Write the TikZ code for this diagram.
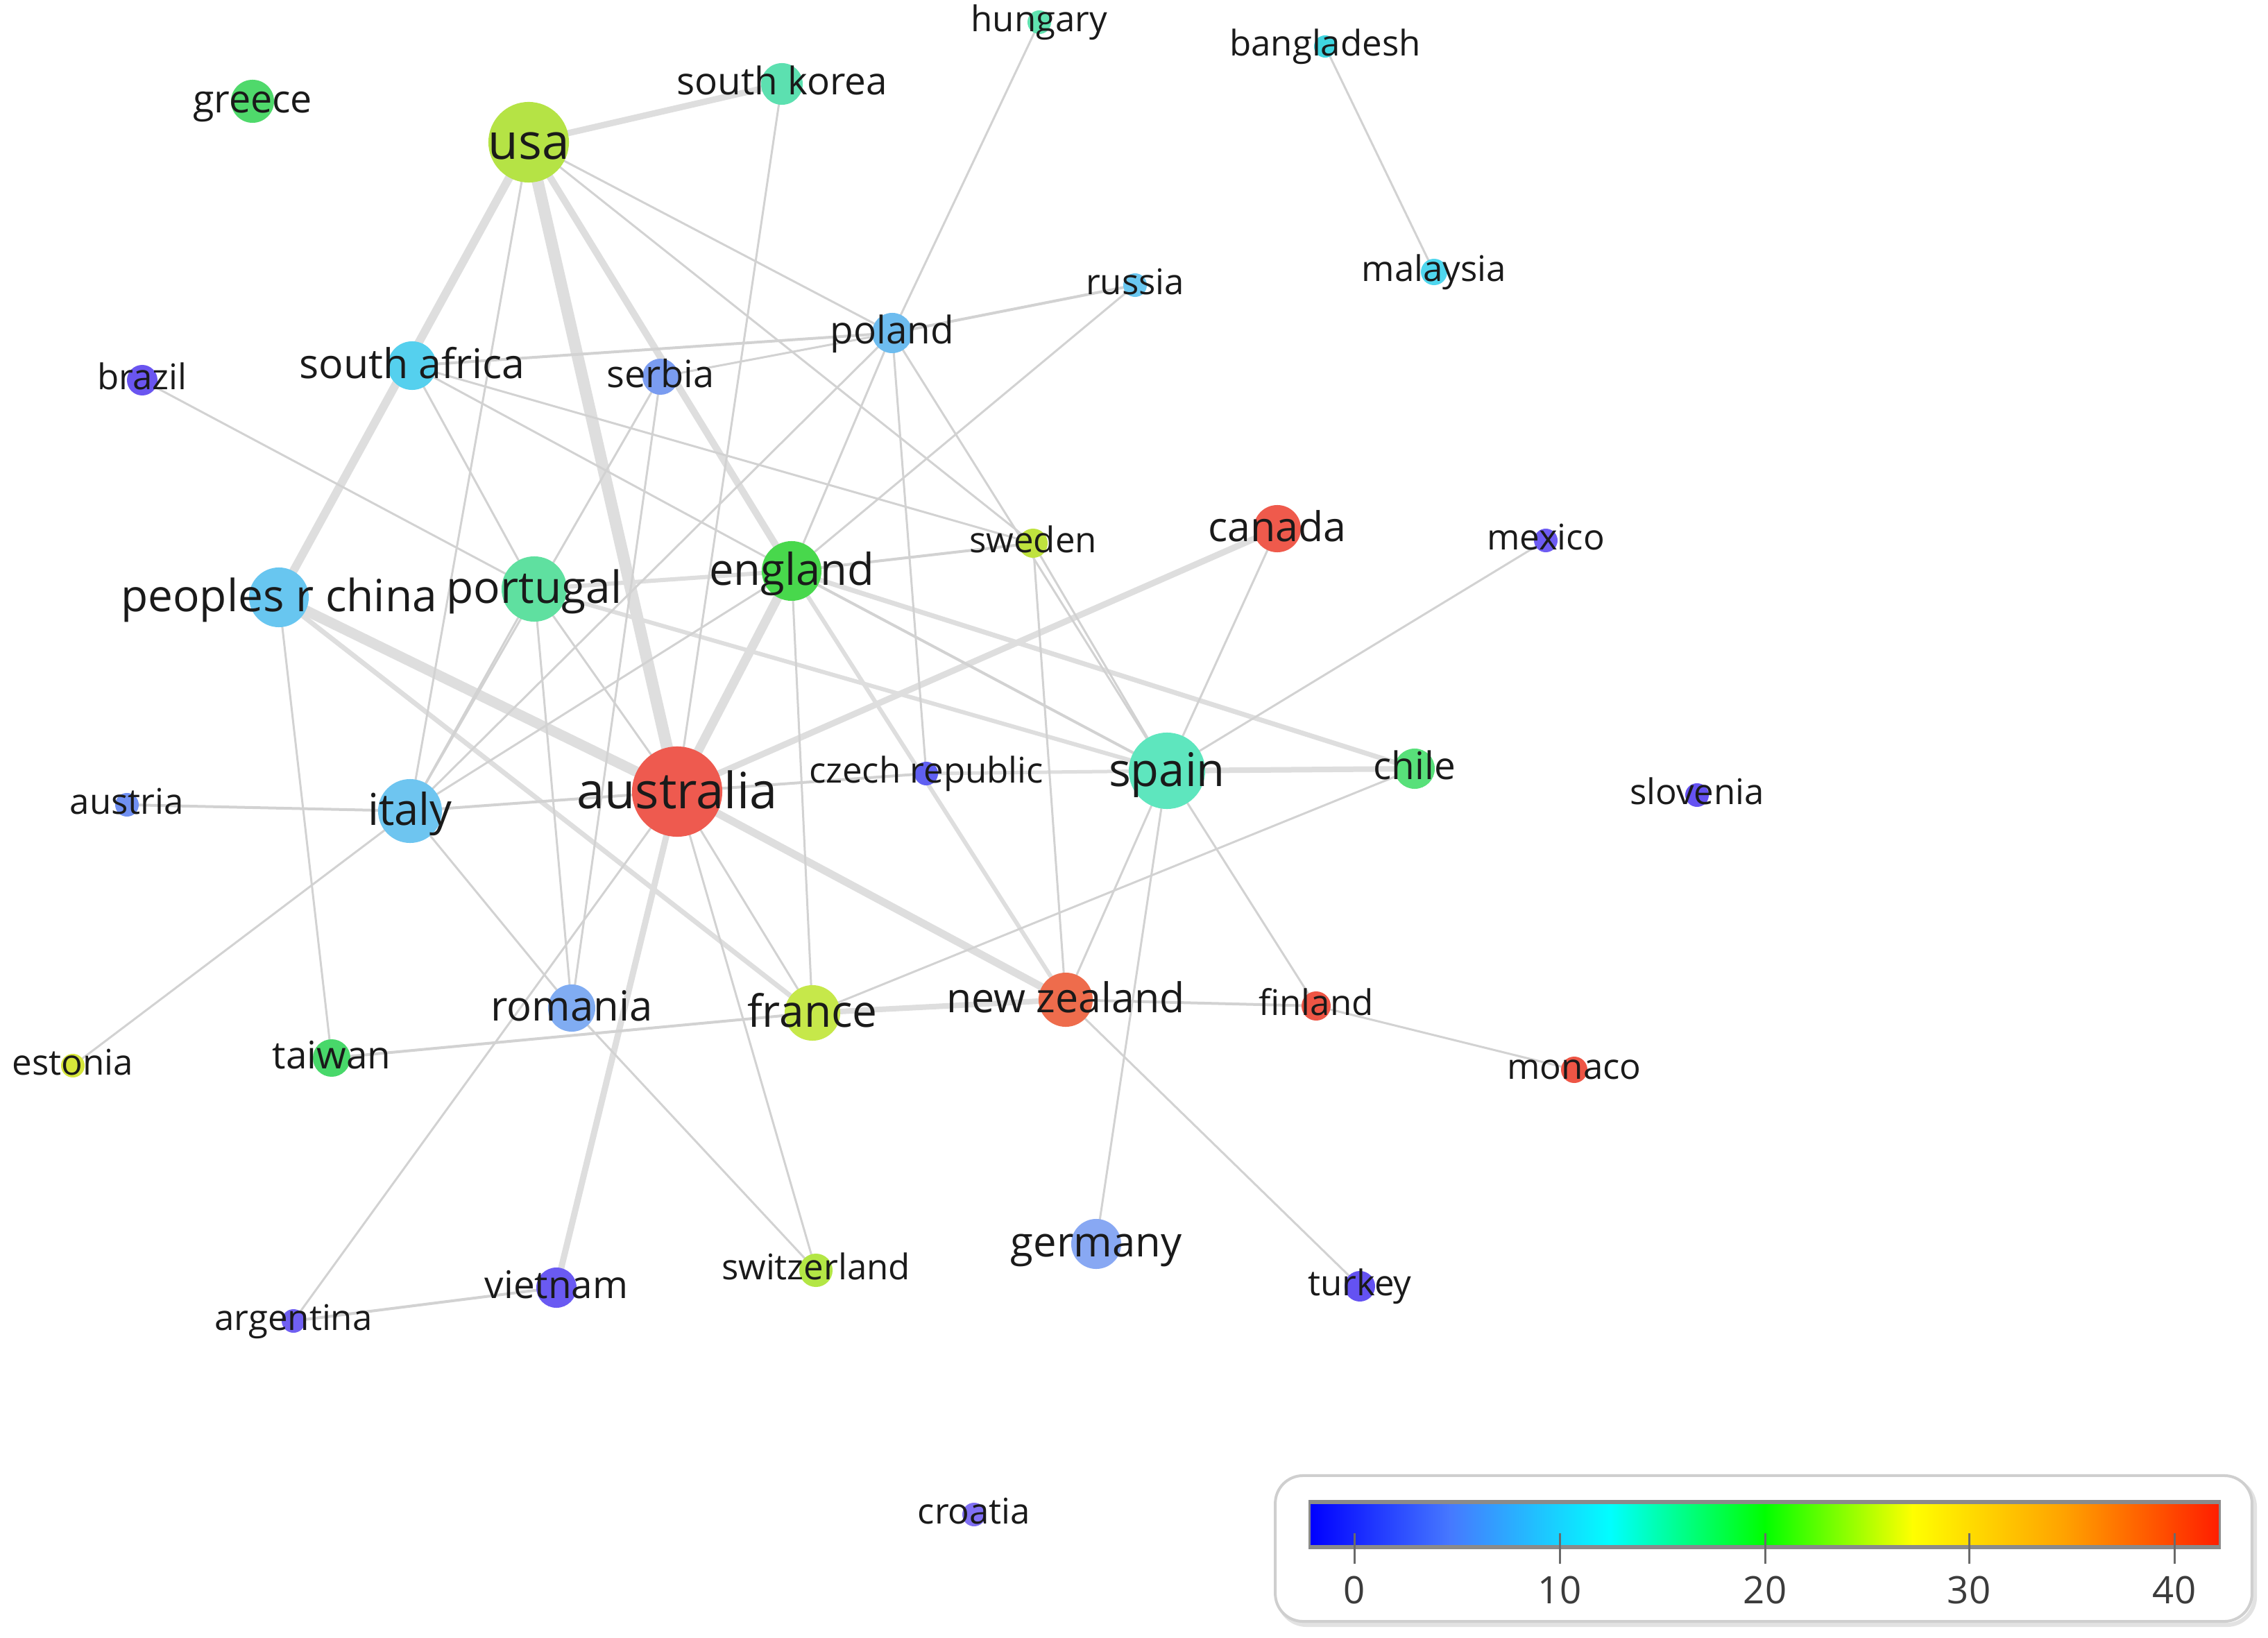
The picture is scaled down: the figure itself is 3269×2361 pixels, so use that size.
\documentclass[tikz,border=0pt]{standalone}
\usepackage{fontspec}
\setmainfont{Open Sans}
\pgfdeclarelayer{bg}
\pgfdeclarelayer{fg}
\pgfsetlayers{bg,main,fg}
\definecolor{edgethin}{HTML}{D2D2D2}
\definecolor{edgethick}{HTML}{DEDEDE}
\definecolor{txt}{HTML}{1A1A1A}
\definecolor{legbd}{HTML}{CFCFCF}
\definecolor{barbd}{HTML}{8A8A8A}
\definecolor{tickc}{HTML}{6A6A6A}
\tikzset{
  dotnode/.style={circle, inner sep=0pt, draw=none},
  lbl/.style={anchor=mid, inner sep=0pt, text=txt},
  edgeline/.style={draw=edgethin, line cap=round},
  thickedge/.style={draw=edgethick, line cap=round},
  ticklbl/.style={anchor=mid, inner sep=0pt, text=txt!85, font=\fontsize{15.5pt}{15.5pt}\selectfont},
}
\newcommand\ctry[7]{%
  \definecolor{c#1}{HTML}{#5}%
  \node[dotnode, minimum size=#4*0.02cm, fill=c#1] (#1) at (#2,#3) {};
  \begin{pgfonlayer}{fg}
  \node[lbl, font=\fontsize{#6pt}{#6pt}\selectfont, yshift={-(#6-12)*0.018cm}] (#1-l) at (#1.center) {#7};
  \end{pgfonlayer}}
\newcommand\ed[3]{\draw[edgeline, line width=#3*0.01cm] (#1.center) -- (#2.center);}
\newcommand\edk[3]{\draw[thickedge, line width=#3*0.01cm] (#1.center) -- (#2.center);}
\begin{document}
\begin{tikzpicture}[x=0.01cm, y=-0.01cm]
\begin{pgfonlayer}{bg}
\fill[white] (0,0) rectangle (3269,2361);
\end{pgfonlayer}
\useasboundingbox (0,0) rectangle (3269,2361);
% nodes: name, x, y, r, color, font size, text
\ctry{greece}{364}{146}{31}{4FD96B}{15.8}{greece}
\ctry{usa}{762}{205}{58}{B5E345}{20.2}{usa}
\ctry{skorea}{1127}{121}{30}{5CE0B0}{15.6}{south korea}
\ctry{hungary}{1498}{32}{17}{60E3B0}{14.5}{hungary}
\ctry{bangla}{1910}{67}{16}{3FD5E0}{14.5}{bangladesh}
\ctry{malaysia}{2067}{392}{19}{4FD6EE}{14.5}{malaysia}
\ctry{russia}{1636}{411}{17}{6AC7F0}{14.5}{russia}
\ctry{poland}{1286}{480}{29}{6DBCEF}{15.6}{poland}
\ctry{safrica}{594}{527}{35}{55D0EE}{16.8}{south africa}
\ctry{serbia}{952}{543}{26}{7A9CF0}{15.4}{serbia}
\ctry{brazil}{205}{548}{22}{6A55F0}{14.5}{brazil}
\ctry{sweden}{1489}{783}{21}{BFE23E}{14.5}{sweden}
\ctry{canada}{1841}{762}{34}{EF5A4C}{16.8}{canada}
\ctry{mexico}{2228}{779}{17}{6E5CF2}{14.5}{mexico}
\ctry{china}{402}{861}{43}{68C6F0}{18.2}{peoples r china}
\ctry{portugal}{770}{849}{47}{5FE0A0}{18.2}{portugal}
\ctry{england}{1141}{823}{43}{48D84C}{18}{england}
\ctry{aus}{976}{1141}{65}{EE5A4F}{20.5}{australia}
\ctry{czech}{1335}{1115}{17}{6060F2}{14.5}{czech republic}
\ctry{spain}{1682}{1111}{55}{5EE6BE}{19}{spain}
\ctry{chile}{2039}{1108}{29}{58E07A}{15.6}{chile}
\ctry{slovenia}{2446}{1146}{17}{6552F2}{14.5}{slovenia}
\ctry{austria}{183}{1160}{17}{7090F2}{14.5}{austria}
\ctry{italy}{591}{1169}{46}{6EC5F0}{18}{italy}
\ctry{romania}{824}{1453}{34}{80ACF2}{17}{romania}
\ctry{france}{1171}{1460}{40}{C6E84A}{18.2}{france}
\ctry{nz}{1536}{1441}{39}{EE6C4C}{16.8}{new zealand}
\ctry{finland}{1897}{1450}{21}{EE5545}{14.5}{finland}
\ctry{monaco}{2269}{1542}{19}{EE5545}{14.5}{monaco}
\ctry{estonia}{105}{1536}{17}{D6E63A}{14.5}{estonia}
\ctry{taiwan}{478}{1525}{27}{48D86A}{15.6}{taiwan}
\ctry{germany}{1580}{1793}{36}{88A8F3}{17}{germany}
\ctry{swiss}{1176}{1831}{24}{B3E645}{14.5}{switzerland}
\ctry{turkey}{1960}{1854}{22}{6452F2}{14.5}{turkey}
\ctry{vietnam}{802}{1856}{29}{6A5AF2}{15.6}{vietnam}
\ctry{argentina}{423}{1904}{17}{7060F2}{14.5}{argentina}
\ctry{croatia}{1404}{2183}{17}{8070F4}{14.5}{croatia}
% edges
\begin{pgfonlayer}{bg}
\edk{usa}{aus}{17}
\edk{china}{aus}{15}
\edk{aus}{england}{13}
\edk{usa}{china}{12}
\edk{usa}{england}{10}
\edk{usa}{skorea}{9}
\edk{aus}{nz}{11}
\edk{aus}{canada}{9}
\edk{aus}{vietnam}{9}
\edk{spain}{chile}{8}
\edk{france}{nz}{8}
\edk{china}{france}{7}
\edk{england}{chile}{7}
\edk{portugal}{spain}{6}
\edk{england}{portugal}{6}
\edk{england}{nz}{6}
\edk{czech}{spain}{5}
\ed{aus}{czech}{4}
\ed{safrica}{poland}{4}
\ed{england}{spain}{4}
\ed{austria}{italy}{4}
\ed{italy}{aus}{4}
\ed{taiwan}{france}{4}
\ed{argentina}{vietnam}{4}
\ed{nz}{finland}{4}
\ed{england}{sweden}{4}
\ed{russia}{poland}{4}
\ed{usa}{italy}{3}
\ed{usa}{poland}{3}
\ed{usa}{sweden}{3}
\ed{skorea}{aus}{3}
\ed{hungary}{poland}{3}
\ed{bangla}{malaysia}{3}
\ed{russia}{england}{3}
\ed{poland}{serbia}{3}
\ed{poland}{england}{3}
\ed{poland}{italy}{3}
\ed{poland}{czech}{3}
\ed{poland}{spain}{3}
\ed{safrica}{portugal}{3}
\ed{safrica}{england}{3}
\ed{safrica}{sweden}{3}
\ed{serbia}{italy}{3}
\ed{serbia}{romania}{3}
\ed{brazil}{portugal}{3}
\ed{england}{france}{3}
\ed{england}{italy}{3}
\ed{sweden}{spain}{3}
\ed{sweden}{nz}{3}
\ed{canada}{spain}{3}
\ed{mexico}{spain}{3}
\ed{chile}{france}{3}
\ed{spain}{nz}{3}
\ed{spain}{germany}{3}
\ed{spain}{finland}{3}
\ed{finland}{monaco}{3}
\ed{nz}{turkey}{3}
\ed{estonia}{italy}{3}
\ed{china}{taiwan}{3}
\ed{italy}{romania}{3}
\ed{romania}{swiss}{3}
\ed{portugal}{romania}{3}
\ed{portugal}{italy}{3}
\ed{portugal}{aus}{3}
\ed{aus}{france}{3}
\ed{aus}{swiss}{3}
\ed{aus}{argentina}{3}
\end{pgfonlayer}
% legend
\draw[legbd!60, line width=0.06cm, rounded corners=0.4cm] (1843,2132) rectangle (3250,2342);
\node[draw=legbd, line width=0.04cm, fill=white, rounded corners=0.4cm, inner sep=0pt,
      minimum width=14.07cm, minimum height=2.10cm] (legend) at (2542,2232) {};
\shade[left color={rgb,255:red,0;green,0;blue,255}, right color={rgb,255:red,70;green,120;blue,255}] (1889,2168) rectangle (2090,2227);
\shade[left color={rgb,255:red,70;green,120;blue,255}, right color={rgb,255:red,0;green,255;blue,255}] (2089,2168) rectangle (2322,2227);
\shade[left color={rgb,255:red,0;green,255;blue,255}, right color={rgb,255:red,0;green,255;blue,0}] (2321,2168) rectangle (2544,2227);
\shade[left color={rgb,255:red,0;green,255;blue,0}, right color={rgb,255:red,255;green,255;blue,0}] (2543,2168) rectangle (2757,2227);
\shade[left color={rgb,255:red,255;green,255;blue,0}, right color={rgb,255:red,255;green,160;blue,0}] (2756,2168) rectangle (2980,2227);
\shade[left color={rgb,255:red,255;green,160;blue,0}, right color={rgb,255:red,255;green,30;blue,0}] (2979,2168) rectangle (3198,2227);
\node[draw=barbd, line width=0.03cm, inner sep=0pt, minimum width=13.11cm, minimum height=0.62cm] (bar) at (2543.5,2197.5) {};
\draw[barbd, line width=0.06cm] (bar.north west) -- (bar.north east);
\draw[barbd, line width=0.06cm] (bar.south west) -- (bar.south east);
\foreach \v/\xx in {0/1952,10/2248,20/2544,30/2838,40/3134}{
  \coordinate (tk\v) at (\xx,2210);
  \node[ticklbl] (tl\v) at (\xx,2302) {\v};
  \draw[tickc, line width=0.03cm] (tk\v) -- (\xx,2254);
}
\end{tikzpicture}
\end{document}
